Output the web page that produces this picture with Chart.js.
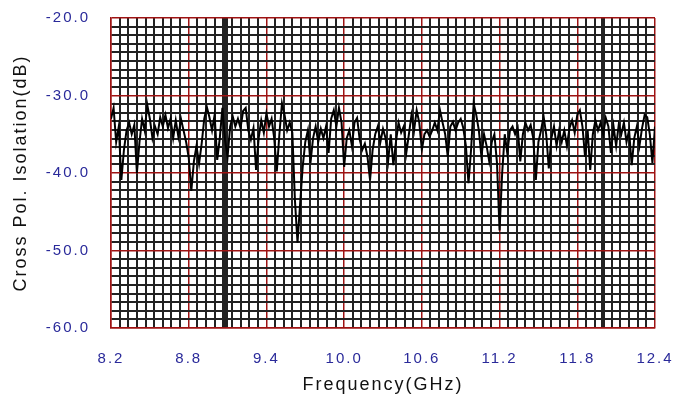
<!DOCTYPE html>
<html>
<head>
<meta charset="utf-8">
<script src="https://cdn.jsdelivr.net/npm/chart.js@4.4.1/dist/chart.umd.min.js"></script>
<style>html,body{margin:0;padding:0;background:#fff;}</style>
</head>
<body>
<canvas id="myChart" width="688" height="401"></canvas>
<script>
// sweep: 8.2 GHz to 12.4 GHz, 0.02 GHz per point
var freqStart = 8.2;
var freqStep = 0.02;
var isolation = [
    -33, -31.6, -36, -34, -40.9, -37, -34.5, -33.5, -35, -33.8,
    -40, -36, -33, -34.5, -31.2, -33, -35.5, -34, -35, -32.8,
    -34, -32.5, -34.2, -33, -35.5, -33.2, -35.3, -33, -34.5, -36,
    -38, -42.3, -38.5, -36.5, -38.8, -36.2, -33, -31.5, -32.8, -34.5,
    -32.5, -38.3, -35.5, -31.6, -35.7, -37.9, -34, -32.7, -34, -33,
    -34.2, -32, -31.6, -34.5, -35.7, -34.2, -39.6, -35.5, -33.2, -34.8,
    -32.3, -34, -33, -35.5, -39.8, -35, -31, -32.5, -34.5, -33.5,
    -34.8, -43.5, -49, -44, -39.2, -36, -34.5, -38.7, -35.5, -34,
    -36, -34.3, -35.5, -34, -37.4, -33, -31.9, -34, -31.6, -33.5,
    -39.2, -35.5, -34.5, -36.5, -33.5, -32.9, -35.7, -37, -36.2, -37.9,
    -40.9, -37, -35, -34, -36, -34.3, -35.5, -38.4, -35, -39,
    -36, -33.5, -34.8, -34, -37.4, -35, -32.5, -34.5, -31.9, -33.5,
    -37, -35, -34.5, -35.3, -34.5, -33.5, -34.5, -31.9, -33.5, -35,
    -37.9, -34, -33.4, -34.5, -33.5, -33, -34.2, -36.5, -41.3, -37,
    -31, -32.5, -34.5, -37.9, -35, -36.5, -38.5, -36, -35, -38.7,
    -47.4, -40, -35, -37.5, -34.5, -34, -35, -34.2, -38.5, -35,
    -33.5, -34.5, -33.8, -35.5, -40.9, -36, -34.5, -32.7, -35, -39.4,
    -35.5, -34, -36.5, -34.5, -36, -34.5, -36.5, -34.2, -33.2, -34.8,
    -32.5, -31.9, -34, -37.9, -34.5, -39.6, -35, -33.2, -34.5, -33.5,
    -35, -32.9, -34, -37.4, -34, -36.5, -33.8, -35, -33.5, -36,
    -34.5, -39, -35.5, -34, -36.5, -34.2, -32.5, -32.8, -35, -38.7,
    -34
];
var freqTicks = [8.2, 8.8, 9.4, 10.0, 10.6, 11.2, 11.8, 12.4];
var dbTicks = [-60, -50, -40, -30, -20];
var boldFreqs = [9.09, 12.0];

var points = isolation.map(function (v, i) {
    return { x: freqStart + i * freqStep, y: v };
});

// major ticks plus 9 minor divisions between each pair
function withMinor(major, extra) {
    var out = major.slice();
    for (var i = 0; i < major.length - 1; i++) {
        var d = (major[i + 1] - major[i]) / 9;
        for (var k = 1; k < 9; k++) out.push(major[i] + k * d);
    }
    out = out.concat(extra || []);
    return out.sort(function (a, b) { return a - b; });
}
function setTicks(list) {
    return function (scale) {
        scale.ticks = list.map(function (v) { return { value: v }; });
    };
}

var spacing = {
    id: 'spacing',
    beforeLayout: function (c) { c.ctx.letterSpacing = '2px'; },
    beforeDraw: function (c) { c.ctx.letterSpacing = '2px'; }
};

var red = '#9e1212';
var dark = '#222';
var blue = '#2a2a9a';

function gridColor(major) {
    return function (c) { return major.indexOf(c.tick.value) >= 0 ? red : dark; };
}
function gridWidth(major, bold) {
    return function (c) {
        if (major.indexOf(c.tick.value) >= 0) return 1.5;
        return bold.indexOf(c.tick.value) >= 0 ? 4 : 2;
    };
}
function label(major) {
    return function (v) { return major.indexOf(v) >= 0 ? v.toFixed(1) : ''; };
}

var ctx = document.getElementById('myChart').getContext('2d');

var myChart = new Chart(ctx, {
    type: 'line',
    data: {
        datasets: [{
            data: points,
            borderColor: '#000',
            borderWidth: 2,
            pointRadius: 0,
            tension: 0
        }]
    },
    plugins: [spacing],
    options: {
        responsive: false,
        animation: false,
        layout: { autoPadding: false, padding: { top: 18, right: 33, left: 0, bottom: 0 } },
        plugins: {
            legend: { display: false },
            tooltip: { enabled: false }
        },
        scales: {
            x: {
                type: 'linear',
                min: 8.2,
                max: 12.4,
                afterBuildTicks: setTicks(withMinor(freqTicks, boldFreqs)),
                afterFit: function (s) { s.height = 73; },
                grid: {
                    color: gridColor(freqTicks),
                    lineWidth: gridWidth(freqTicks, boldFreqs),
                    tickLength: 22,
                    tickColor: 'rgba(0,0,0,0)'
                },
                border: { color: red, width: 1.5 },
                ticks: {
                    color: blue,
                    padding: 0,
                    maxRotation: 0,
                    autoSkip: false,
                    font: { family: 'Liberation Sans, Arial', size: 15 },
                    callback: label(freqTicks)
                },
                title: {
                    display: true,
                    text: 'Frequency(GHz)',
                    color: '#111',
                    font: { family: 'Liberation Sans, Arial', size: 18 },
                    padding: { top: 0, bottom: 5 }
                }
            },
            y: {
                min: -60,
                max: -20,
                afterBuildTicks: setTicks(withMinor(dbTicks)),
                afterFit: function (s) { s.width = 111; },
                grid: {
                    color: gridColor(dbTicks),
                    lineWidth: gridWidth(dbTicks, []),
                    tickLength: 21,
                    tickColor: 'rgba(0,0,0,0)'
                },
                border: { color: red, width: 1.5 },
                ticks: {
                    color: blue,
                    padding: 0,
                    autoSkip: false,
                    font: { family: 'Liberation Sans, Arial', size: 15 },
                    callback: label(dbTicks)
                },
                title: {
                    display: true,
                    text: 'Cross Pol. Isolation(dB)',
                    color: '#111',
                    font: { family: 'Liberation Sans, Arial', size: 18 },
                    padding: { top: 10, bottom: 0 }
                }
            }
        }
    }
});
</script>
</body>
</html>
